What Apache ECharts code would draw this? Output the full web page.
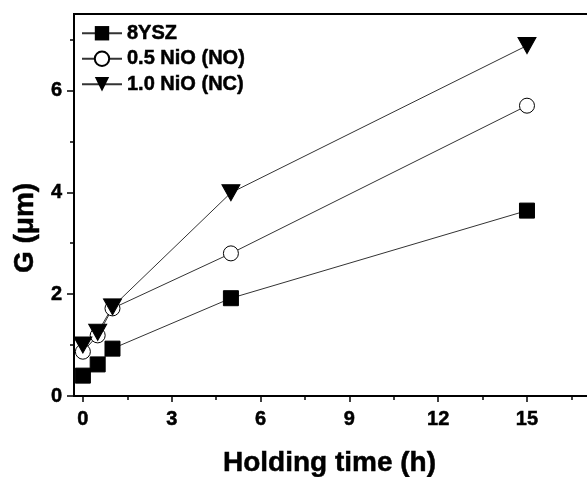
<!DOCTYPE html>
<html>
<head>
<meta charset="utf-8">
<script src="https://cdn.jsdelivr.net/npm/echarts@6/dist/echarts.min.js"></script>
<style>html,body{margin:0;padding:0;background:#fff}#c{width:587px;height:477px}</style>
</head>
<body>
<div id="c"></div>
<script>
// Data
const holdingTime = [0, 0.5, 1, 5, 15];
const seriesNames = ['8YSZ', '0.5 NiO (NO)', '1.0 NiO (NC)'];
const g8YSZ = [0.40, 0.62, 0.93, 1.92, 3.64];
const gNiO05 = [0.87, 1.19, 1.72, 2.80, 5.70];
const gNiO10 = [1.00, 1.25, 1.75, 3.99, 6.88];
const xMajorTicks = [0, 3, 6, 9, 12, 15];
const xMinorTicks = [1.5, 4.5, 7.5, 10.5, 13.5, 16.5];
const yMajorTicks = [0, 2, 4, 6];
const yMinorTicks = [1, 3, 5, 7];

const pairs = ys => holdingTime.map((x, i) => [x, ys[i]]);
const font = '"Liberation Sans", Arial, sans-serif';
const heavy = { textBorderColor: '#000', textBorderWidth: 0.5 };

const chart = echarts.init(document.getElementById('c'));
const lineStyle = { color: '#333', width: 1 };
chart.setOption({
  animation: false,
  backgroundColor: '#fff',
  grid: { left: 74, top: 14, right: -14, bottom: 81, show: true, borderColor: '#000', borderWidth: 2, containLabel: false, outerBoundsMode: 'none' },
  legend: {
    orient: 'vertical', left: 76, top: 18, itemWidth: 40, itemHeight: 18, itemGap: 5,
    textStyle: Object.assign({ fontFamily: font, fontWeight: 'bold', fontSize: 20, color: '#000' }, heavy),
    data: seriesNames
  },
  xAxis: [{
    type: 'value', min: -0.3, max: 17.5,
    name: 'Holding time (h)', nameLocation: 'middle', nameGap: 53,
    nameTextStyle: Object.assign({ fontFamily: font, fontWeight: 'bold', fontSize: 28, color: '#000', padding: [0, 16, 0, 0] }, heavy),
    axisLine: { show: true, onZero: false, lineStyle: { color: '#000', width: 2 } },
    axisTick: { show: true, inside: false, length: 6, customValues: xMajorTicks, lineStyle: { color: '#000', width: 1.5 } },
    axisLabel: Object.assign({ customValues: xMajorTicks, margin: 13, fontFamily: font, fontWeight: 'bold', fontSize: 20, color: '#000' }, heavy),
    splitLine: { show: false }
  }, {
    type: 'value', min: -0.3, max: 17.5, position: 'bottom',
    axisLine: { show: false, onZero: false },
    axisTick: { show: true, inside: false, length: 4, customValues: xMinorTicks, lineStyle: { color: '#000', width: 1.5 } },
    axisLabel: { show: false },
    splitLine: { show: false }
  }],
  yAxis: [{
    type: 'value', min: 0, max: 7.5,
    name: 'G (μm)', nameLocation: 'middle', nameGap: 34,
    nameTextStyle: Object.assign({ fontFamily: font, fontWeight: 'bold', fontSize: 28, color: '#000', padding: [0, 46, 0, 0] }, heavy),
    axisLine: { show: true, onZero: false, lineStyle: { color: '#000', width: 2 } },
    axisTick: { show: true, inside: false, length: 7, customValues: yMajorTicks, lineStyle: { color: '#000', width: 1.5 } },
    axisLabel: Object.assign({ customValues: yMajorTicks, margin: 12, fontFamily: font, fontWeight: 'bold', fontSize: 20, color: '#000' }, heavy),
    splitLine: { show: false }
  }, {
    type: 'value', min: 0, max: 7.5, position: 'left',
    axisLine: { show: false, onZero: false },
    axisTick: { show: true, inside: false, length: 4, customValues: yMinorTicks, lineStyle: { color: '#000', width: 1.5 } },
    axisLabel: { show: false },
    splitLine: { show: false }
  }],
  series: [{
    name: seriesNames[0], type: 'line', data: pairs(g8YSZ),
    symbol: 'rect', symbolSize: 15,
    itemStyle: { color: '#000', borderColor: '#000' }, lineStyle: lineStyle
  }, {
    name: seriesNames[1], type: 'line', data: pairs(gNiO05),
    symbol: 'circle', symbolSize: 15,
    itemStyle: { color: '#fff', borderColor: '#000', borderWidth: 1 }, lineStyle: lineStyle
  }, {
    name: seriesNames[2], type: 'line', data: pairs(gNiO10),
    symbol: 'triangle', symbolRotate: 180, symbolSize: [18, 16],
    itemStyle: { color: '#000', borderColor: '#000' }, lineStyle: lineStyle
  }]
});
</script>
</body>
</html>
